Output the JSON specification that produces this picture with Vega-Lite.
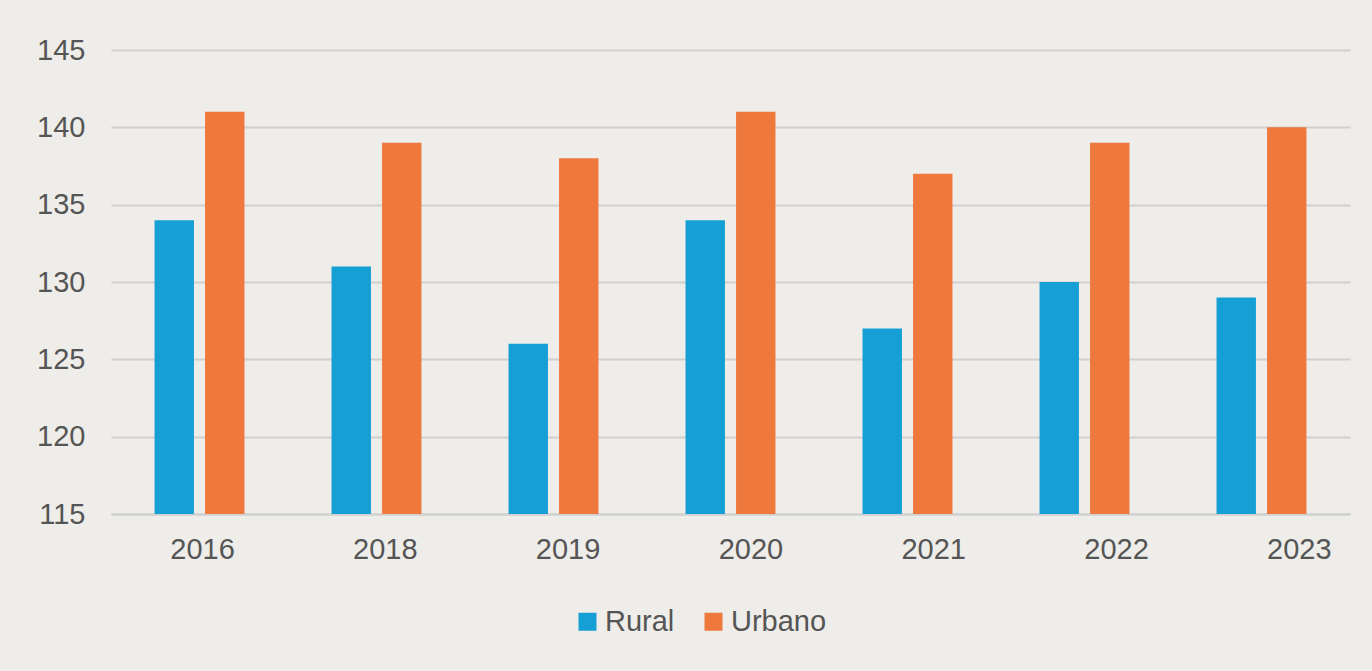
{
  "$schema": "https://vega.github.io/schema/vega-lite/v6.json",
  "width": 1239,
  "height": 464,
  "autosize": {"type": "none"},
  "padding": {"left": 111, "top": 50, "right": 22, "bottom": 157},
  "background": "#EEEDE9",
  "config": {
    "view": {"stroke": null},
    "font": "Liberation Sans",
    "axis": {"labelColor": "#555555", "labelFont": "Liberation Sans", "labelFontSize": 29},
    "legend": {"labelColor": "#555555", "labelFont": "Liberation Sans", "labelFontSize": 29}
  },
  "data": {
    "values": [
      {"year": "2016", "zone": "Rural", "value": 134},
      {"year": "2016", "zone": "Urbano", "value": 141},
      {"year": "2018", "zone": "Rural", "value": 131},
      {"year": "2018", "zone": "Urbano", "value": 139},
      {"year": "2019", "zone": "Rural", "value": 126},
      {"year": "2019", "zone": "Urbano", "value": 138},
      {"year": "2020", "zone": "Rural", "value": 134},
      {"year": "2020", "zone": "Urbano", "value": 141},
      {"year": "2021", "zone": "Rural", "value": 127},
      {"year": "2021", "zone": "Urbano", "value": 137},
      {"year": "2022", "zone": "Rural", "value": 130},
      {"year": "2022", "zone": "Urbano", "value": 139},
      {"year": "2023", "zone": "Rural", "value": 129},
      {"year": "2023", "zone": "Urbano", "value": 140}
    ]
  },
  "mark": {"type": "bar", "clip": true},
  "encoding": {
    "x": {
      "field": "year",
      "type": "nominal",
      "title": null,
      "scale": {"paddingInner": 0.492, "paddingOuter": 0.246},
      "axis": {
        "labelAngle": 0,
        "ticks": false,
        "domain": true,
        "domainColor": "#D0D0D0",
        "domainWidth": 2,
        "labelPadding": 21,
        "labelOffset": {"expr": "3 + 5.8 * indexof(['2016','2018','2019','2020','2021','2022','2023'], datum.value)"}
      }
    },
    "xOffset": {
      "field": "zone",
      "type": "nominal",
      "scale": {"paddingInner": 0.22, "paddingOuter": 0}
    },
    "y": {
      "field": "value",
      "type": "quantitative",
      "title": null,
      "scale": {"domain": [115, 145], "zero": false, "nice": false},
      "axis": {
        "values": [115, 120, 125, 130, 135, 140, 145],
        "domain": false,
        "ticks": false,
        "gridColor": "#D0D0D0",
        "gridWidth": 2,
        "labelPadding": 26
      }
    },
    "color": {
      "field": "zone",
      "type": "nominal",
      "title": null,
      "scale": {"domain": ["Rural", "Urbano"], "range": ["#169FD5", "#EF783D"]},
      "legend": {
        "orient": "none",
        "legendX": 462,
        "legendY": 557,
        "padding": 0,
        "direction": "horizontal",
        "symbolType": "square",
        "symbolSize": 324,
        "symbolStrokeWidth": 0,
        "columnPadding": 24,
        "labelOffset": 3
      }
    }
  }
}
